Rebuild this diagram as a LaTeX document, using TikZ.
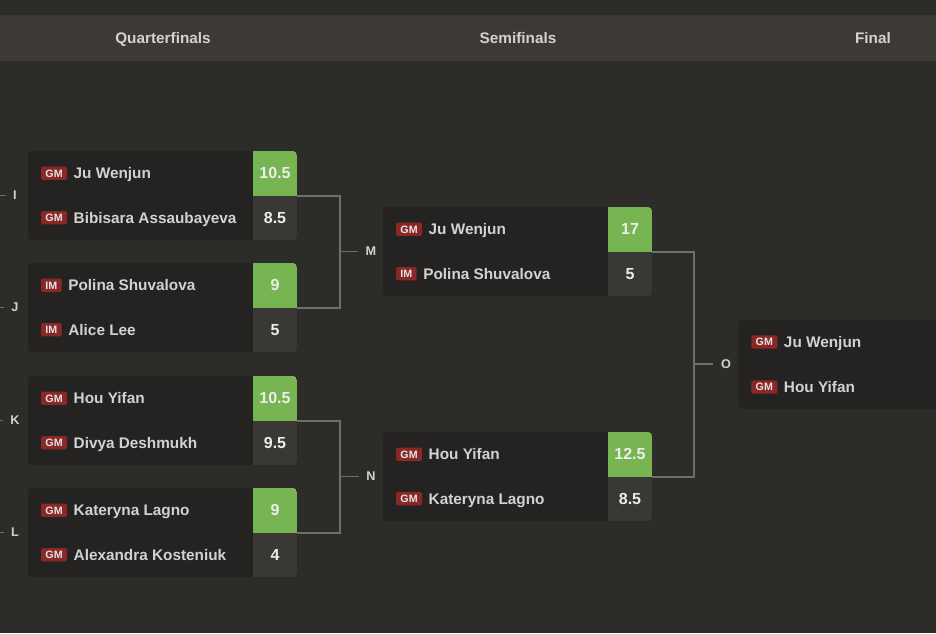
\documentclass[tikz,border=0pt]{standalone}
\usepackage{fontspec}
\setmainfont{Liberation Sans}
\usetikzlibrary{positioning}
\definecolor{bgcol}{RGB}{46,44,41}
\definecolor{headcol}{RGB}{61,58,54}
\definecolor{boxcol}{RGB}{36,35,33}
\definecolor{losecol}{RGB}{58,56,53}
\definecolor{wincol}{RGB}{119,181,83}
\definecolor{badgecol}{RGB}{138,40,40}
\definecolor{linecol}{RGB}{112,110,106}
\definecolor{txtcol}{RGB}{210,210,208}
\tikzset{
matchbox/.style = {rectangle, rounded corners=3pt, fill=boxcol, minimum width=201.75pt,
  minimum height=66.75pt, inner sep=0pt,
  path picture={
    \fill[wincol, sharp corners] ([xshift=-33pt]path picture bounding box.north east) rectangle (path picture bounding box.east);
    \fill[losecol, sharp corners] ([xshift=-33pt]path picture bounding box.east) rectangle (path picture bounding box.south east);
  }},
finalbox/.style = {rectangle, rounded corners=3pt, fill=boxcol, minimum width=225pt,
  minimum height=66.75pt, inner sep=0pt},
scorenode/.style = {minimum width=33pt, minimum height=33.375pt, inner sep=0pt,
  text height=8.5pt, text depth=0pt, text=white!93!black,
  font=\bfseries\fontsize{12}{14}\selectfont},
badge/.style = {rectangle, rounded corners=1.5pt, fill=badgecol, text=white!90!black,
  inner xsep=3.3pt, inner ysep=0pt, minimum height=10pt, text height=5.7pt, text depth=0pt,
  font=\bfseries\fontsize{8}{9}\selectfont},
player/.style = {inner sep=0pt, text height=8.2pt, text depth=0pt, text=txtcol,
  font=\bfseries\fontsize{11.5}{13}\selectfont},
roundlabel/.style = {inner xsep=5.5pt, inner ysep=2pt, text=txtcol,
  font=\bfseries\fontsize{9.5}{11}\selectfont},
header/.style = {text=txtcol, text height=8.5pt, text depth=0pt,
  font=\bfseries\fontsize{11.5}{13}\selectfont},
link/.style = {draw=linecol, line width=1.1pt}
}
\begin{document}
\begin{tikzpicture}[x=0.75pt, y=-0.75pt]
\clip (0,0) rectangle (936,633);
\fill[bgcol] (0,0) rectangle (936,633);
\fill[headcol] (0,15) rectangle (936,61);
\node[header] (qfh) at (163,38) {Quarterfinals};
\node[header] (sfh) at (518,38) {Semifinals};
\node[header] (fh) at (873,38) {Final};

% quarterfinals
\node[matchbox] (i) at (162.5,195.5) {};
\node[scorenode, anchor=north east] (i1) at (i.north east) {10.5};
\node[scorenode, anchor=south east] (i2) at (i.south east) {8.5};
\node[badge, anchor=west, xshift=9.8pt] (i1b) at (i.west |- i1) {GM};
\node[player, right=4.6pt of i1b] (i1n) {Ju Wenjun};
\node[badge, anchor=west, xshift=9.8pt] (i2b) at (i.west |- i2) {GM};
\node[player, right=4.6pt of i2b] (i2n) {Bibisara Assaubayeva};

\node[matchbox] (j) at (162.5,307.5) {};
\node[scorenode, anchor=north east] (j1) at (j.north east) {9};
\node[scorenode, anchor=south east] (j2) at (j.south east) {5};
\node[badge, anchor=west, xshift=9.8pt] (j1b) at (j.west |- j1) {IM};
\node[player, right=4.6pt of j1b] (j1n) {Polina Shuvalova};
\node[badge, anchor=west, xshift=9.8pt] (j2b) at (j.west |- j2) {IM};
\node[player, right=4.6pt of j2b] (j2n) {Alice Lee};

\node[matchbox] (k) at (162.5,420.5) {};
\node[scorenode, anchor=north east] (k1) at (k.north east) {10.5};
\node[scorenode, anchor=south east] (k2) at (k.south east) {9.5};
\node[badge, anchor=west, xshift=9.8pt] (k1b) at (k.west |- k1) {GM};
\node[player, right=4.6pt of k1b] (k1n) {Hou Yifan};
\node[badge, anchor=west, xshift=9.8pt] (k2b) at (k.west |- k2) {GM};
\node[player, right=4.6pt of k2b] (k2n) {Divya Deshmukh};

\node[matchbox] (l) at (162.5,532.5) {};
\node[scorenode, anchor=north east] (l1) at (l.north east) {9};
\node[scorenode, anchor=south east] (l2) at (l.south east) {4};
\node[badge, anchor=west, xshift=9.8pt] (l1b) at (l.west |- l1) {GM};
\node[player, right=4.6pt of l1b] (l1n) {Kateryna Lagno};
\node[badge, anchor=west, xshift=9.8pt] (l2b) at (l.west |- l2) {GM};
\node[player, right=4.6pt of l2b] (l2n) {Alexandra Kosteniuk};

% semifinals
\node[matchbox] (m) at (517.5,251.5) {};
\node[scorenode, anchor=north east] (m1) at (m.north east) {17};
\node[scorenode, anchor=south east] (m2) at (m.south east) {5};
\node[badge, anchor=west, xshift=9.8pt] (m1b) at (m.west |- m1) {GM};
\node[player, right=4.6pt of m1b] (m1n) {Ju Wenjun};
\node[badge, anchor=west, xshift=9.8pt] (m2b) at (m.west |- m2) {IM};
\node[player, right=4.6pt of m2b] (m2n) {Polina Shuvalova};

\node[matchbox] (n) at (517.5,476.5) {};
\node[scorenode, anchor=north east] (n1) at (n.north east) {12.5};
\node[scorenode, anchor=south east] (n2) at (n.south east) {8.5};
\node[badge, anchor=west, xshift=9.8pt] (n1b) at (n.west |- n1) {GM};
\node[player, right=4.6pt of n1b] (n1n) {Hou Yifan};
\node[badge, anchor=west, xshift=9.8pt] (n2b) at (n.west |- n2) {GM};
\node[player, right=4.6pt of n2b] (n2n) {Kateryna Lagno};

% final
\node[finalbox, anchor=west] (o) at (738,364.5) {};
\node[badge, anchor=west, xshift=9.8pt, yshift=16.875pt] (o1b) at (o.west) {GM};
\node[player, right=4.6pt of o1b] (o1n) {Ju Wenjun};
\node[badge, anchor=west, xshift=9.8pt, yshift=-16.875pt] (o2b) at (o.west) {GM};
\node[player, right=4.6pt of o2b] (o2n) {Hou Yifan};

% round labels
\node[roundlabel] (li) at (15,195.5) {I};
\node[roundlabel] (lj) at (15,307.5) {J};
\node[roundlabel] (lk) at (15,420.5) {K};
\node[roundlabel] (ll) at (15,532.5) {L};
\node[roundlabel] (lm) at (371,251.5) {M};
\node[roundlabel] (ln) at (371,476.5) {N};
\node[roundlabel] (lo) at (726,364) {O};

\coordinate (ti) at (0,195.5);
\coordinate (tj) at (0,307.5);
\coordinate (tk) at (0,420.5);
\coordinate (tl) at (0,532.5);
\draw[link] (ti) -- (li.west);
\draw[link] (tj) -- (lj.west);
\draw[link] (tk) -- (lk.west);
\draw[link] (tl) -- (ll.west);

% brackets
\coordinate (ij) at (340,251.5);
\coordinate (kl) at (340,476.5);
\coordinate (mn) at (694,364);
\draw[link] (i1.south east) -| (ij) |- (j1.south east);
\draw[link] (ij) -- (lm.west);
\draw[link] (k1.south east) -| (kl) |- (l1.south east);
\draw[link] (kl) -- (ln.west);
\draw[link] (m1.south east) -| (mn) |- (n1.south east);
\draw[link] (mn) -- (lo.west);
\end{tikzpicture}
\end{document}
